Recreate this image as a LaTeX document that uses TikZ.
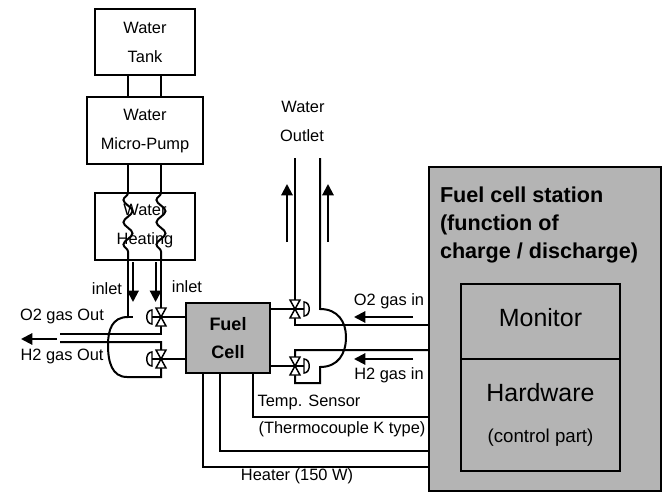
\documentclass[tikz,border=0pt]{standalone}
\usepackage{fontspec}
\setmainfont{Liberation Sans}
\usetikzlibrary{positioning,arrows.meta,decorations.pathmorphing}
\definecolor{panelgray}{RGB}{180,180,180}
\newcommand{\LblFont}{\fontsize{12.3}{21.75}\selectfont}
\tikzset{
  box/.style={draw,rectangle,outer sep=0pt,align=center,minimum width=75pt,minimum height=50pt,font=\LblFont},
  lbl/.style={font=\LblFont,inner sep=0pt},
  flow/.style={-{Triangle[length=8.5pt,width=8.5pt]}},
  wavy/.style={decorate,decoration={snake,segment length=16.7pt,amplitude=3.4pt,mirror}},
  valve/.pic={
    \draw (0,0) -- (-9,0);
    \draw[fill=white,line width=1.1pt] (-5,-9) -- (5,-9) -- (-5,9) -- (5,9) -- cycle;
    \draw[fill=white,line width=1.1pt] (-9,-7) .. controls (-16,-7) and (-16,7) .. (-9,7) -- cycle;
  }
}
\begin{document}
\begin{tikzpicture}[>=Stealth,x=0.75pt,y=-0.75pt,line width=1.5pt]
\useasboundingbox (0,0) rectangle (664,492);
\node[box] (tank) at (145,42) {Water\\Tank};
\node[box,minimum width=87pt,below=16.5pt of tank] (pump) {Water\\Micro-Pump};
\node[box,below=21.75pt of pump] (heating) {Water\\Heating};
\node[box,fill=panelgray,minimum width=63pt,minimum height=52pt,font=\fontsize{13.5}{21}\selectfont\bfseries] (cell) at (228,338) {Fuel\\Cell};
\node[draw,rectangle,outer sep=0pt,fill=panelgray,minimum width=174pt,minimum height=243pt] (station) at (545,329) {};
\node[draw,rectangle,outer sep=0pt,minimum width=119.25pt,minimum height=56.25pt,font=\fontsize{18.7}{24}\selectfont] (monitor) at (540.5,321.5) {\raisebox{3.4pt}[14pt][0pt]{Monitor}};
\node[draw,rectangle,outer sep=0pt,align=center,minimum width=119.25pt,minimum height=84pt,below=0pt of monitor,font=\fontsize{18.7}{31}\selectfont] (hardware) {Hardware\\{\fontsize{14}{31}\selectfont (control part)}};
\node[anchor=west,align=left,inner sep=0pt,font=\fontsize{16.2}{21}\selectfont\bfseries] (title) at (439,225) {Fuel cell station\\(function of\\charge / discharge)};
\coordinate (pl) at (128,0);
\coordinate (pr) at (161,0);
\coordinate (vo) at (161,317);
\coordinate (vh) at (161,359);
\coordinate (wo) at (295,309);
\coordinate (wh) at (295,366);
\coordinate (ts) at (253,417);
\coordinate (tc) at (220,451);
\coordinate (ht) at (203,467);
\draw (tank.south -| pl) -- (pump.north -| pl);
\draw (tank.south -| pr) -- (pump.north -| pr);
\draw (pump.south -| pl) -- (heating.north -| pl);
\draw (pump.south -| pr) -- (heating.north -| pr);
\draw[wavy] (heating.north -| pl) -- (heating.south -| pl);
\draw[wavy] (heating.north -| pr) -- (heating.south -| pr);
\draw (heating.south -| pr) -- (161,334) -- (60,334);
\draw (heating.south -| pl) -- (128,317) -- (133,317);
\draw (128,317) .. controls (112,317) and (108,330) .. (108,345) .. controls (108,362) and (112,377) .. (127,377) -- (161,377) -- (161,342) -- (60,342);
\draw (295,158) -- (295,325) -- (station.west |- 295,325);
\draw (320,158) -- (320,309) .. controls (338,309) and (346,322) .. (346,337) .. controls (346,354) and (338,367) .. (320,367) -- (320,383) -- (295,383) -- (295,350) -- (station.west |- 295,350);
\draw (vo) -- (cell.west |- vo);
\draw (vh) -- (cell.west |- vh);
\draw (wo) -- (cell.east |- wo);
\draw (wh) -- (cell.east |- wh);
\pic at (vo) {valve};
\pic at (vh) {valve};
\pic[xscale=-1] at (wo) {valve};
\pic[xscale=-1] at (wh) {valve};
\draw (cell.south -| ts) -- (ts) -- (station.west |- ts);
\draw (cell.south -| tc) -- (tc) -- (station.west |- tc);
\draw (cell.south -| ht) -- (ht) -- (station.west |- ht);
\draw[flow] (133,262) -- (133,302);
\draw[flow] (155.6,262) -- (155.6,302);
\draw[flow] (57,339) -- (21,339);
\draw[flow] (287,242) -- (287,184);
\draw[flow] (328,242) -- (328,184);
\draw[flow] (413,317) -- (354,317);
\draw[flow] (413,359) -- (354,359);
\node[lbl] (outa) at (303,107) {Water};
\node[lbl] (outb) at (302,136) {Outlet};
\node[lbl] (inl) at (107,289) {inlet};
\node[lbl] (inr) at (187,287) {inlet};
\node[lbl] (oout) at (62,316) {O2 gas Out};
\node[lbl] (hout) at (62,356) {H2 gas Out};
\node[lbl] (oin) at (389,301) {O2 gas in};
\node[lbl] (hin) at (389,375) {H2 gas in};
\node[lbl] (tsl) at (309,402) {Temp. Sensor};
\node[lbl] (tcl) at (342,429) {(Thermocouple K type)};
\node[lbl] (htl) at (297,476) {Heater (150 W)};
\end{tikzpicture}
\end{document}
